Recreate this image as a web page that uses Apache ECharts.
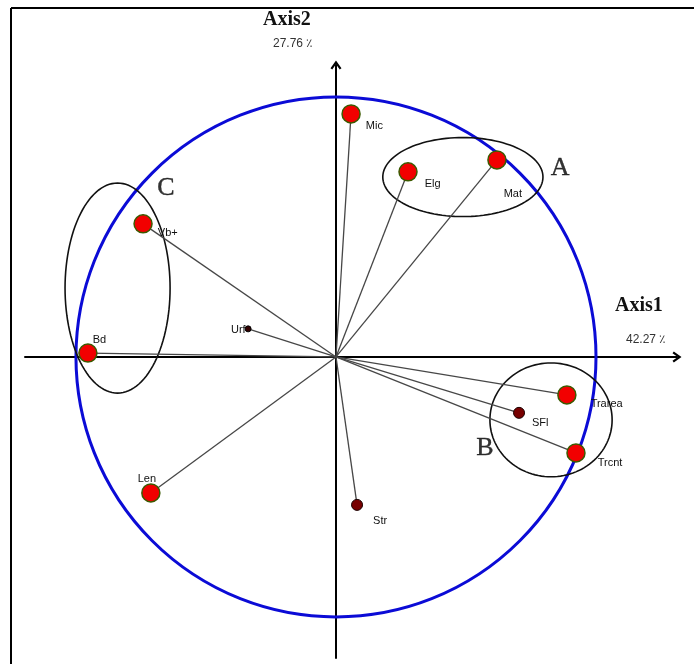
<!DOCTYPE html>
<html>
<head>
<meta charset="utf-8">
<script src="https://cdn.jsdelivr.net/npm/echarts@6/dist/echarts.min.js"></script>
<style>
  html, body { margin: 0; padding: 0; background: #fff; }
  #chart { width: 694px; height: 664px; }
</style>
</head>
<body>
<div id="chart"></div>
<script>
// Correlation circle: loadings of each variable on the first two axes
const variables      = ['Mic', 'Elg', 'Mat', 'Vb+', 'Bd', 'Urf', 'Len', 'Str', 'Trarea', 'SFl', 'Trcnt'];
const axis1Loadings  = [0.058, 0.277, 0.619, -0.742, -0.954, -0.338, -0.712, 0.081, 0.888, 0.704, 0.923];
const axis2Loadings  = [0.935, 0.712, 0.758, 0.512, 0.015, 0.108, -0.523, -0.569, -0.146, -0.215, -0.369];
const markerKind     = ['big', 'big', 'big', 'big', 'big', 'tiny', 'big', 'small', 'big', 'small', 'big'];

// Variable groups outlined by ellipses
const groupNames   = ['A', 'B', 'C'];
const groupCenterX = [0.488, 0.827, -0.840];
const groupCenterY = [0.692, -0.242, 0.265];
const groupRadiusX = [0.308, 0.235, 0.202];
const groupRadiusY = [0.152, 0.219, 0.404];
const groupLabelX  = [0.862, 0.573, -0.654];
const groupLabelY  = [0.727, -0.350, 0.650];

// Axis titles and explained inertia
const axis1Title = 'Axis1';
const axis2Title = 'Axis2';
const axis1Inertia = '42.27 \u066A';
const axis2Inertia = '27.76 \u066A';

// Label placement per variable (styling only)
const labelPlacement = {
  'Mic':    { position: 'right', offset: [0, 12] },
  'Elg':    { position: 'right', offset: [2, 12] },
  'Mat':    { position: 'right', offset: [-8, 34] },
  'Vb+':    { position: 'right', offset: [0, 9] },
  'Bd':     { position: 'right', offset: [-10, -13] },
  'Urf':    { position: 'left',  offset: [6, 1] },
  'Len':    { position: 'top',   offset: [-4, 6] },
  'Str':    { position: 'right', offset: [5, 16] },
  'Trarea': { position: 'right', offset: [9, 9] },
  'SFl':    { position: 'right', offset: [2, 10] },
  'Trcnt':  { position: 'right', offset: [7, 10] }
};

const markerStyle = {
  big:   { size: 18, color: '#f20000', border: '#3b5a00', borderWidth: 1.5 },
  small: { size: 11, color: '#780000', border: '#1a0000', borderWidth: 1 },
  tiny:  { size: 6,  color: '#300000', border: '#000000', borderWidth: 1 }
};

const points = variables.map((name, i) => {
  const st = markerStyle[markerKind[i]];
  const lp = labelPlacement[name];
  return {
    name: name,
    value: [axis1Loadings[i], axis2Loadings[i]],
    symbolSize: st.size,
    itemStyle: { color: st.color, borderColor: st.border, borderWidth: st.borderWidth, opacity: 1 },
    label: { position: lp.position, offset: lp.offset }
  };
});

const groups = groupNames.map((g, i) => ({
  name: g,
  value: [groupCenterX[i], groupCenterY[i], groupRadiusX[i], groupRadiusY[i]]
}));

const groupLabels = groupNames.map((g, i) => ({
  name: g,
  value: [groupLabelX[i], groupLabelY[i]]
}));

const chevron = 'path://M5,0 L10,7 L8.4,8.2 L5,3.4 L1.6,8.2 L0,7 Z';

const chart = echarts.init(document.getElementById('chart'), null, { renderer: 'canvas' });

chart.setOption({
  animation: false,
  backgroundColor: '#ffffff',
  grid: { left: 25, right: 17, top: 65, bottom: 6, containLabel: false },
  xAxis: {
    type: 'value',
    min: -1.196, max: 1.3115,
    axisLine: {
      onZero: true,
      lineStyle: { color: '#000', width: 2 },
      symbol: ['none', chevron],
      symbolSize: [11, 12]
    },
    axisTick: { show: false },
    axisLabel: { show: false },
    splitLine: { show: false }
  },
  yAxis: {
    type: 'value',
    min: -1.158, max: 1.123,
    axisLine: {
      onZero: true,
      lineStyle: { color: '#000', width: 2 },
      symbol: ['none', chevron],
      symbolSize: [11, 12]
    },
    axisTick: { show: false },
    axisLabel: { show: false },
    splitLine: { show: false }
  },
  graphic: [
    // page frame
    { type: 'line', shape: { x1: 11, y1: 8, x2: 694, y2: 8 }, style: { stroke: '#000', lineWidth: 2 } },
    { type: 'line', shape: { x1: 11, y1: 8, x2: 11, y2: 664 }, style: { stroke: '#000', lineWidth: 2 } },
    // axis titles
    { type: 'text', left: 263, top: 10, style: { text: axis2Title, font: 'bold 20px "Liberation Serif"', fill: '#111' } },
    { type: 'text', left: 273, top: 38, style: { text: axis2Inertia, font: '12px "Liberation Sans"', fill: '#333' } },
    { type: 'text', left: 615, top: 296, style: { text: axis1Title, font: 'bold 20px "Liberation Serif"', fill: '#111' } },
    { type: 'text', left: 626, top: 334, style: { text: axis1Inertia, font: '12px "Liberation Sans"', fill: '#333' } }
  ],
  series: [
    {
      // unit correlation circle
      type: 'custom',
      z: 2,
      silent: true,
      data: [[0, 0]],
      renderItem: function (params, api) {
        const c = api.coord([0, 0]);
        const r = api.size([1, 1])[0];
        return {
          type: 'circle',
          shape: { cx: c[0], cy: c[1], r: r },
          style: { fill: 'none', stroke: '#0b0bd6', lineWidth: 3 }
        };
      }
    },
    {
      // group ellipses
      type: 'custom',
      z: 3,
      silent: true,
      data: groups,
      renderItem: function (params, api) {
        const c = api.coord([api.value(0), api.value(1)]);
        const s = api.size([api.value(2), api.value(3)]);
        const pts = [];
        for (let k = 0; k < 120; k++) {
          const t = (k / 120) * Math.PI * 2;
          pts.push([c[0] + s[0] * Math.cos(t), c[1] + s[1] * Math.sin(t)]);
        }
        return {
          type: 'polygon',
          shape: { points: pts },
          style: { fill: 'none', stroke: '#111', lineWidth: 1.6 }
        };
      }
    },
    {
      // vectors from the origin
      type: 'custom',
      z: 4,
      silent: true,
      data: points.map(p => p.value),
      renderItem: function (params, api) {
        const o = api.coord([0, 0]);
        const p = api.coord([api.value(0), api.value(1)]);
        return {
          type: 'line',
          shape: { x1: o[0], y1: o[1], x2: p[0], y2: p[1] },
          style: { stroke: '#474747', lineWidth: 1.3 }
        };
      }
    },
    {
      type: 'scatter',
      z: 5,
      symbol: 'circle',
      data: points,
      itemStyle: { opacity: 1 },
      label: {
        show: true,
        formatter: '{b}',
        distance: 5,
        color: '#111',
        fontFamily: '"Liberation Sans", Arial, sans-serif',
        fontSize: 11
      }
    },
    {
      // group letters
      type: 'scatter',
      z: 6,
      symbolSize: 0,
      data: groupLabels,
      label: {
        show: true,
        position: 'inside',
        formatter: '{b}',
        color: '#000',
        fontFamily: '"Liberation Serif", "Times New Roman", serif',
        fontSize: 26,
        textBorderColor: '#000',
        textBorderWidth: 0.4
      }
    }
  ]
});
</script>
</body>
</html>
